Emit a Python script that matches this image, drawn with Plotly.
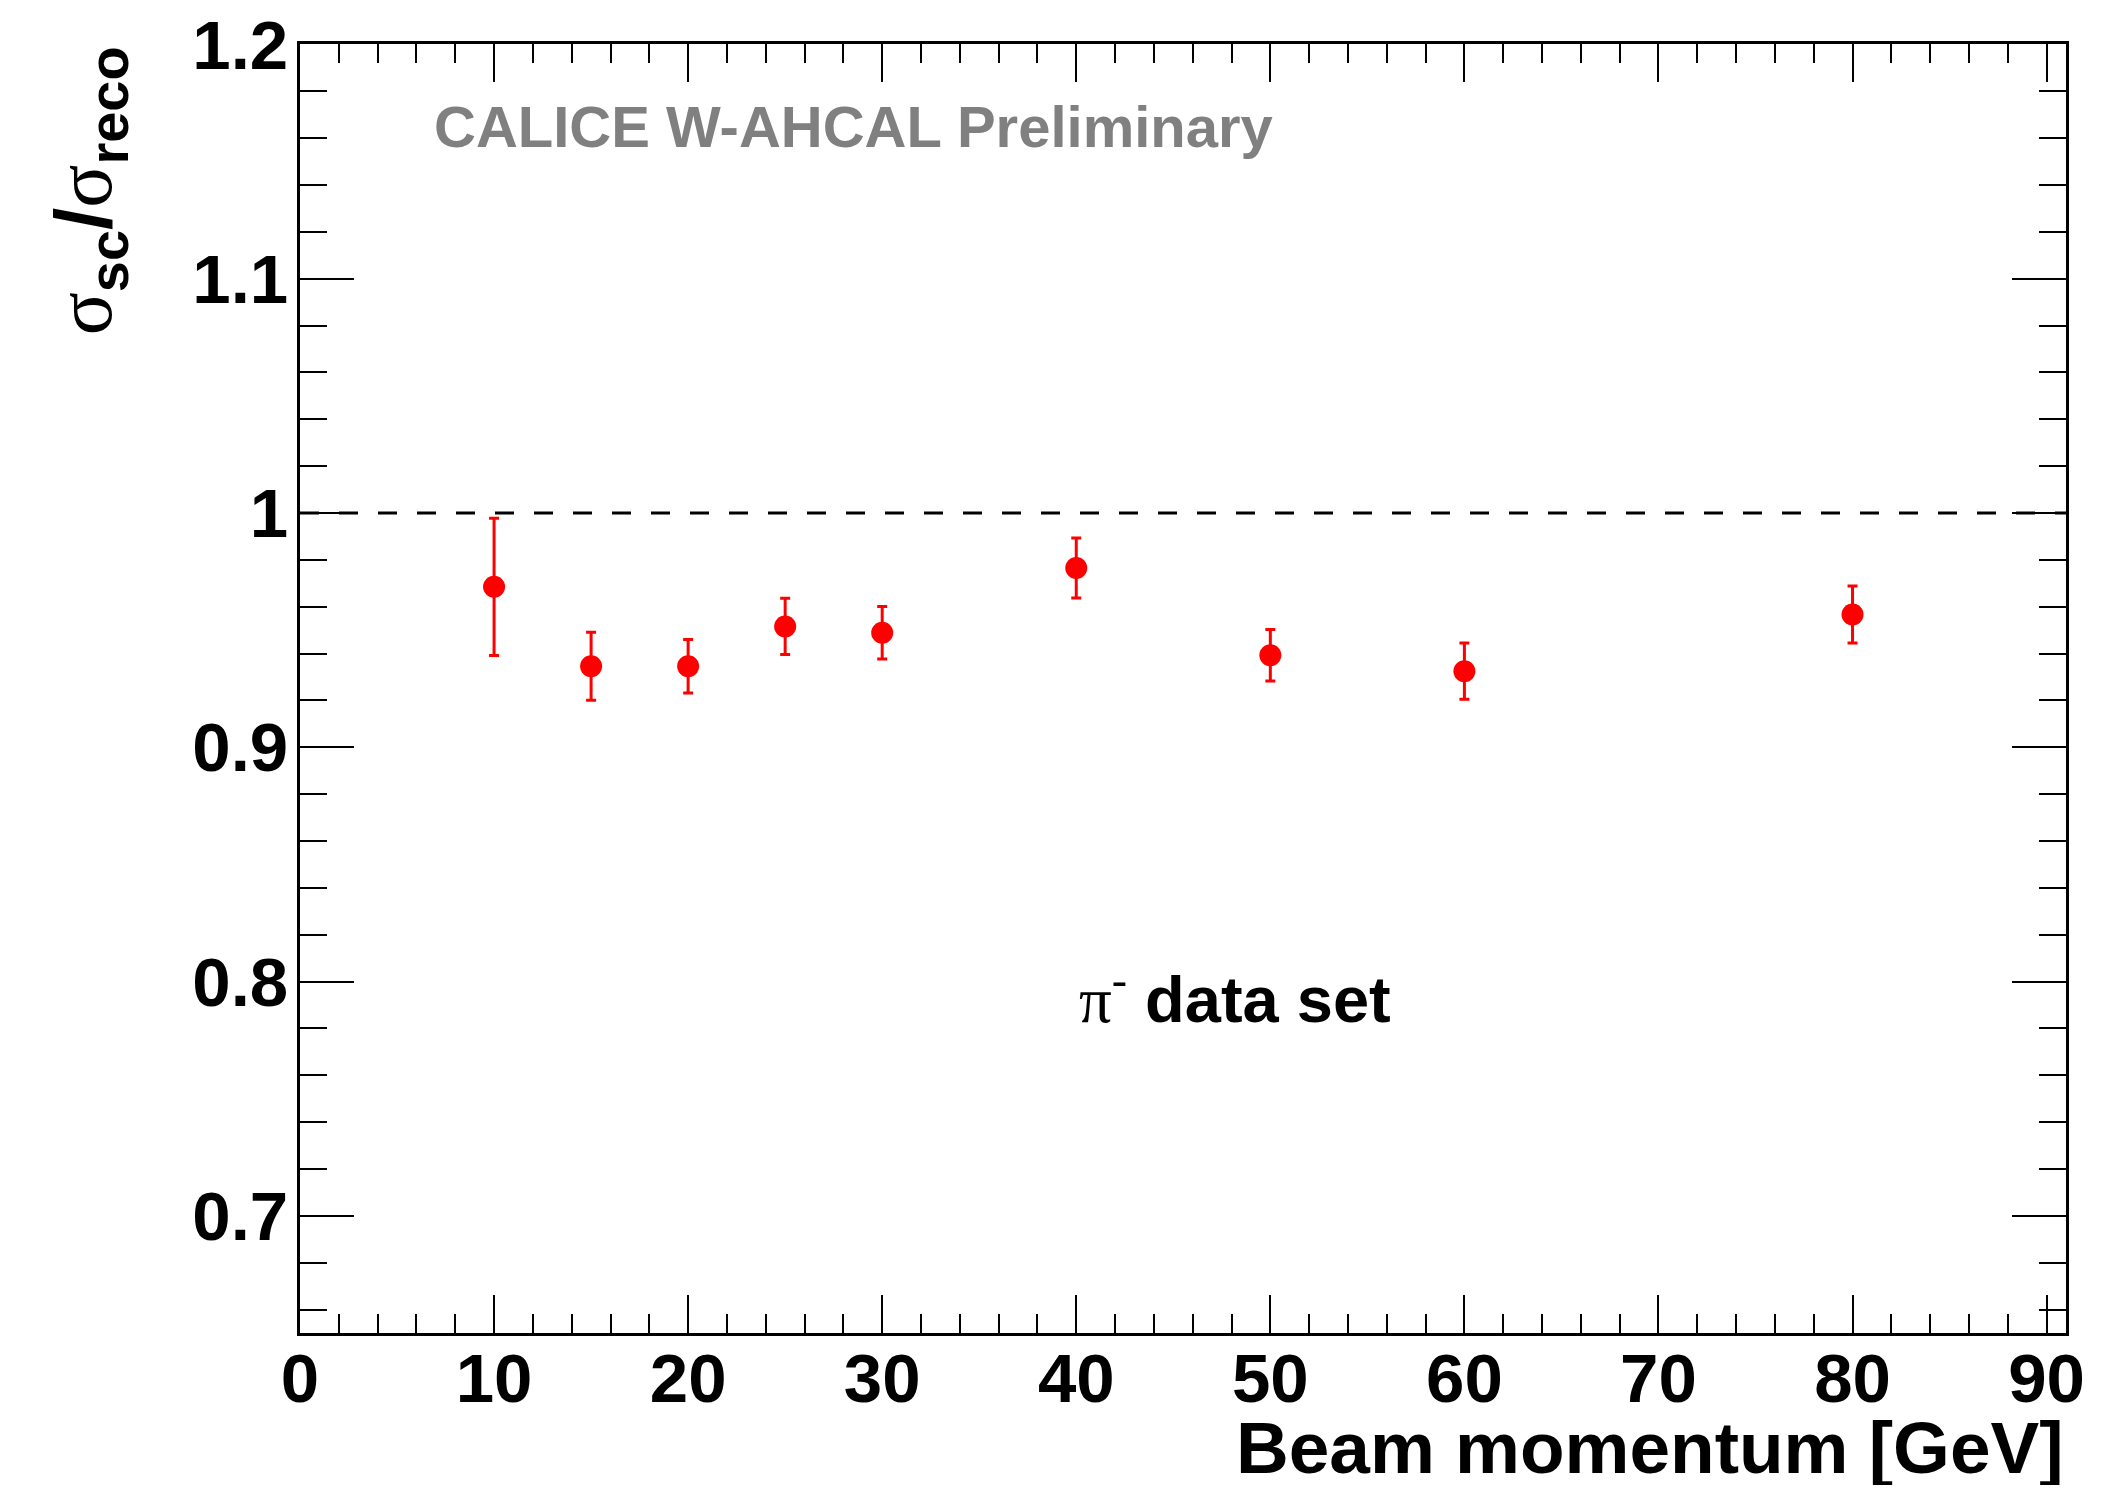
import plotly.graph_objects as go

# Data
beam_momentum = [10, 15, 20, 25, 30, 40, 50, 60, 80]
ratio = [0.9685, 0.9346, 0.9346, 0.9516, 0.9489, 0.9765, 0.9393, 0.9325, 0.9567]
ratio_err = [0.0293, 0.0145, 0.0114, 0.0120, 0.0112, 0.0128, 0.0110, 0.0120, 0.0122]
reference_level = 1.0

x_tick_vals = [0, 10, 20, 30, 40, 50, 60, 70, 80, 90]
y_tick_vals = [0.7, 0.8, 0.9, 1.0, 1.1, 1.2]
y_tick_text = ["0.7", "0.8", "0.9", "1", "1.1", "1.2"]

SANS = "Liberation Sans"
SERIF = "Liberation Serif"

fig = go.Figure()
fig.add_trace(go.Scatter(
    x=beam_momentum, y=ratio, mode="markers",
    marker=dict(color="#ff0000", size=22, line=dict(width=0)),
    error_y=dict(type="data", array=ratio_err, visible=True,
                 color="#ff0000", thickness=3, width=5),
    showlegend=False,
))

fig.add_shape(type="line", xref="paper", x0=0, x1=1, yref="y",
              y0=reference_level, y1=reference_level,
              line=dict(color="black", width=3, dash="19px,20px"))

axis_common = dict(
    showline=True, linecolor="black", linewidth=3, mirror="allticks",
    ticks="inside", tickcolor="black", tickwidth=2,
    showgrid=False, zeroline=False, ticklabeloverflow="allow", automargin=False,
    tickfont=dict(family=SANS, size=69, color="black", weight="bold"),
)

fig.update_xaxes(
    range=[0, 91], tickvals=x_tick_vals, ticklen=38,
    minor=dict(dtick=2, ticklen=19, tickwidth=2, tickcolor="black", ticks="inside"),
    ticklabelstandoff=-17,
    **axis_common,
)
fig.update_yaxes(
    range=[0.65, 1.2002], tickvals=y_tick_vals, ticktext=y_tick_text, ticklen=54,
    minor=dict(dtick=0.02, tick0=0.7, ticklen=27, tickwidth=2, tickcolor="black", ticks="inside"),
    ticklabelstandoff=-5,
    **axis_common,
)

sig = '<span style="font-family:%s;font-weight:normal">σ</span>' % SERIF
fig.add_annotation(
    text=sig + "<sub>sc</sub>/" + sig + "<sub>reco</sub>",
    xref="paper", yref="paper", x=-0.119, y=1.0, xanchor="center", yanchor="top",
    textangle=-90, showarrow=False,
    font=dict(family=SANS, size=80, color="black", weight="bold"),
)
fig.add_annotation(
    text="Beam momentum [GeV]", xref="paper", yref="paper",
    x=1.0, y=-0.0885, xanchor="right", yanchor="middle", showarrow=False,
    font=dict(family=SANS, size=73, color="black", weight="bold"),
)
fig.add_annotation(
    text="CALICE W-AHCAL Preliminary", xref="paper", yref="paper",
    x=(432 - 300) / 1766, y=(1333 - 127) / 1289, xanchor="left", yanchor="middle",
    showarrow=False,
    font=dict(family=SANS, size=58, color="#808080", weight="bold"),
)
fig.add_annotation(
    text='<span style="font-family:%s;font-weight:normal">π<sup>-</sup></span> data set' % SERIF,
    xref="paper", yref="paper",
    x=(1077 - 300) / 1766, y=(1333 - 995) / 1289, xanchor="left", yanchor="middle",
    showarrow=False,
    font=dict(family=SANS, size=65, color="black", weight="bold"),
)

# the page body adds an 8px margin: shrink the figure so it fills the window exactly
fig.update_layout(
    width=2106, height=1477,
    margin=dict(l=292, r=48, t=36, b=152, autoexpand=False),
    paper_bgcolor="white", plot_bgcolor="white",
)

fig.write_html("out.html")
